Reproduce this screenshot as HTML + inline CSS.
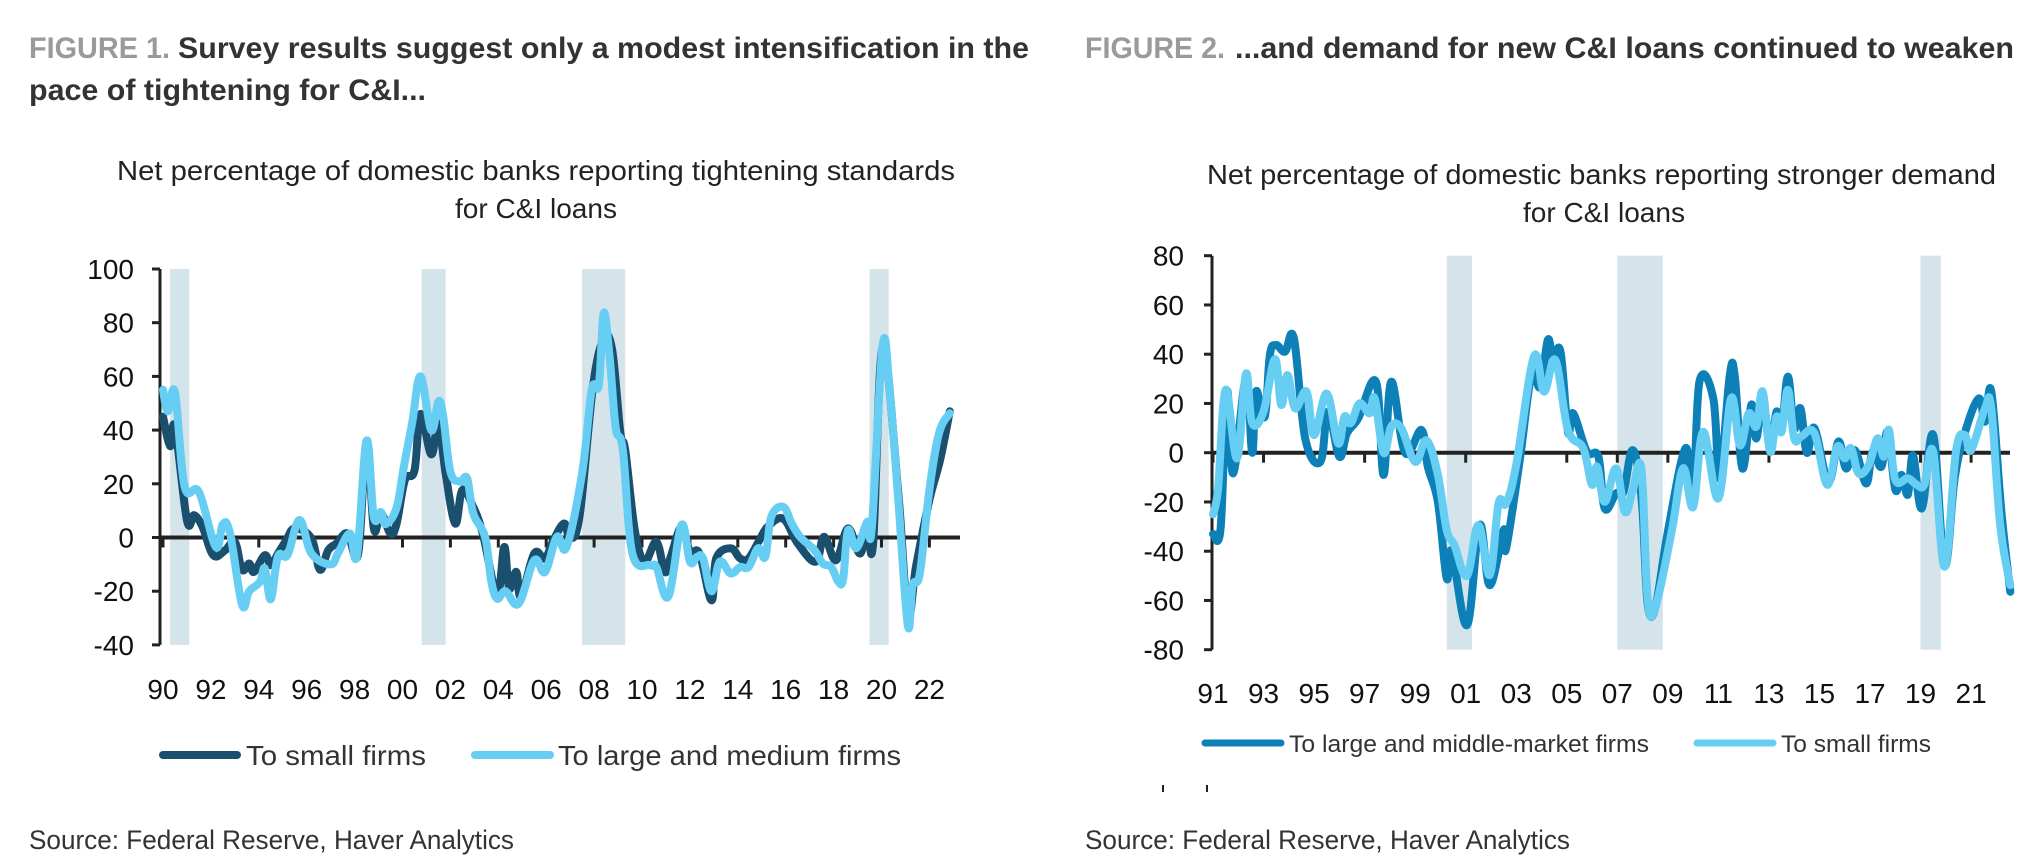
<!DOCTYPE html>
<html><head><meta charset="utf-8"><style>
html,body{margin:0;padding:0;background:#fff;}
svg{display:block;font-family:"Liberation Sans",sans-serif;}
</style></head><body>
<svg id="root" width="2040" height="868" viewBox="0 0 2040 868" xmlns="http://www.w3.org/2000/svg">
<text x="29" y="58" font-size="30" font-weight="bold" fill="#9a9a9a" textLength="141" lengthAdjust="spacingAndGlyphs">FIGURE 1.</text>
<text x="178" y="58" font-size="30" font-weight="bold" fill="#333" textLength="851" lengthAdjust="spacingAndGlyphs">Survey results suggest only a modest intensification in the</text>
<text x="29" y="100" font-size="30" font-weight="bold" fill="#333" textLength="397" lengthAdjust="spacingAndGlyphs">pace of tightening for C&amp;I...</text>
<text x="1085" y="58" font-size="30" font-weight="bold" fill="#9a9a9a" textLength="140" lengthAdjust="spacingAndGlyphs">FIGURE 2.</text>
<text x="1235" y="58" font-size="30" font-weight="bold" fill="#333" textLength="779" lengthAdjust="spacingAndGlyphs">...and demand for new C&amp;I loans continued to weaken</text>

<text x="117" y="180" font-size="28" fill="#222" textLength="838" lengthAdjust="spacingAndGlyphs">Net percentage of domestic banks reporting tightening standards</text>
<text x="455" y="218" font-size="28" fill="#222" textLength="162" lengthAdjust="spacingAndGlyphs">for C&amp;I loans</text>
<text x="1207" y="184" font-size="28" fill="#222" textLength="789" lengthAdjust="spacingAndGlyphs">Net percentage of domestic banks reporting stronger demand</text>
<text x="1523" y="222" font-size="28" fill="#222" textLength="162" lengthAdjust="spacingAndGlyphs">for C&amp;I loans</text>

<g id="c1"></g>
<g id="c2"></g>

<line x1="163" y1="755" x2="237" y2="755" stroke="#1b4f6e" stroke-width="8" stroke-linecap="round"/>
<text x="246" y="765" font-size="28" fill="#333" textLength="180" lengthAdjust="spacingAndGlyphs">To small firms</text>
<line x1="475" y1="755" x2="550" y2="755" stroke="#66cdf3" stroke-width="8" stroke-linecap="round"/>
<text x="558" y="765" font-size="28" fill="#333" textLength="343" lengthAdjust="spacingAndGlyphs">To large and medium firms</text>

<line x1="1205" y1="743" x2="1281" y2="743" stroke="#0d80b8" stroke-width="7" stroke-linecap="round"/>
<text x="1289" y="752" font-size="24" fill="#333" textLength="360" lengthAdjust="spacingAndGlyphs">To large and middle-market firms</text>
<line x1="1697" y1="743" x2="1773" y2="743" stroke="#66cdf3" stroke-width="7" stroke-linecap="round"/>
<text x="1781" y="752" font-size="24" fill="#333" textLength="150" lengthAdjust="spacingAndGlyphs">To small firms</text>

<rect x="1162" y="785" width="2" height="7" fill="#222"/>
<rect x="1206" y="785" width="2" height="7" fill="#222"/>

<text x="29" y="849" font-size="27" fill="#333" textLength="485" lengthAdjust="spacingAndGlyphs">Source: Federal Reserve, Haver Analytics</text>
<text x="1085" y="849" font-size="27" fill="#333" textLength="485" lengthAdjust="spacingAndGlyphs">Source: Federal Reserve, Haver Analytics</text>
</svg>
<script>
// ---------- Chart 1 data ----------
const c1YTicks = [100, 80, 60, 40, 20, 0, -20, -40];
const c1XTicks = [1990,1992,1994,1996,1998,2000,2002,2004,2006,2008,2010,2012,2014,2016,2018,2020,2022];
const c1XLabels = ["90","92","94","96","98","00","02","04","06","08","10","12","14","16","18","20","22"];
const c1RecStart = [1990.3, 2000.8, 2007.5, 2019.5];
const c1RecEnd = [1991.1, 2001.8, 2009.3, 2020.3];
const c1SmallX = [1990.0,1990.3,1990.5,1991.0,1991.3,1991.65,1992.1,1992.6,1993.0,1993.3,1993.6,1993.8,1994.25,1994.5,1994.8,1995.15,1995.5,1996.2,1996.55,1996.9,1997.25,1997.7,1998.15,1998.5,1998.8,1999.1,1999.5,1999.75,2000.1,2000.5,2000.75,2001.2,2001.5,2001.8,2002.2,2002.5,2002.95,2003.35,2003.95,2004.25,2004.45,2004.75,2004.95,2005.5,2005.95,2006.3,2006.75,2007.0,2007.4,2007.95,2008.4,2008.75,2009.1,2009.3,2009.7,2010.1,2010.6,2010.95,2011.2,2011.65,2012.0,2012.4,2012.9,2013.1,2013.7,2014.1,2014.45,2014.9,2015.25,2015.9,2016.5,2017.25,2017.6,2018.1,2018.6,2019.1,2019.4,2019.65,2020.05,2020.7,2021.1,2021.45,2022.0,2022.45,2022.85];
const c1SmallY = [45,34,41,6.5,8.3,4,-6.6,-4.7,-1.6,-12,-9.7,-12.8,-6.6,-10.3,-6,-1,3.4,-0.4,-12,-4.7,-2.2,1.5,-6,36,3.4,9,1.5,5,21.4,25,46,31,42.5,24,5.2,17.7,11.4,1.5,-21,-3.5,-19,-12.8,-22,-6,-7.8,-1,5.2,-0.4,8.3,56,74,70,38.8,32.6,2.7,-9,-1.6,-12.8,-7.2,4,-5.3,-6,-23.4,-7.8,-4,-7.8,-7.8,-1,4,7,-2.2,-9,0.25,-8.5,3.4,-6,4,-2.2,71,16.4,-28.4,-10.3,14,29,47];
const c1LargeX = [1990.0,1990.2,1990.5,1990.9,1991.5,1992.2,1992.5,1992.8,1993.3,1993.6,1994.05,1994.25,1994.5,1994.8,1995.2,1995.7,1996.2,1997.0,1997.3,1997.8,1998.1,1998.5,1998.8,1999.1,1999.3,1999.75,2000.05,2000.4,2000.75,2001.2,2001.5,2001.7,2002.0,2002.4,2002.7,2002.95,2003.45,2003.7,2003.95,2004.3,2004.85,2005.5,2005.95,2006.45,2006.85,2007.5,2007.9,2008.2,2008.4,2008.65,2008.9,2009.2,2009.6,2010.35,2010.6,2011.1,2011.65,2012.0,2012.3,2012.55,2012.9,2013.25,2013.7,2014.1,2014.45,2014.85,2015.15,2015.4,2015.9,2016.25,2016.6,2017.2,2017.55,2017.9,2018.2,2018.4,2018.6,2018.95,2019.4,2019.6,2020.05,2020.35,2020.7,2021.1,2021.3,2021.6,2022.0,2022.4,2022.85];
const c1LargeY = [55,47,54,19,17,-3.5,5,1.5,-25,-20,-16.5,-11.5,-23,-7,-6.5,6.5,-6,-10,-6,1.5,-6.5,36,7.7,9.5,5,11,26,42.5,60,40,50.6,45,24.5,20.8,22,9,0.2,-16,-22.8,-20,-24.6,-8.5,-12.8,0.25,-3.5,24,55,57,83.6,67,41,32.6,-6,-10.3,-11,-22,4.6,-9,-7.2,-7.8,-20,-9,-13.4,-11,-11,-4,-7.2,7.7,11.4,5.2,0.25,-4.7,-9.7,-11,-16.5,-15.3,2.7,-4,5.8,4,71.8,53.7,14,-32.7,-17.8,-13.4,17.7,38.8,46.3];

// ---------- Chart 2 data ----------
const c2YTicks = [80, 60, 40, 20, 0, -20, -40, -60, -80];
const c2XTicks = [1991,1993,1995,1997,1999,2001,2003,2005,2007,2009,2011,2013,2015,2017,2019,2021];
const c2XLabels = ["91","93","95","97","99","01","03","05","07","09","11","13","15","17","19","21"];
const c2RecStart = [2000.25, 2007.0, 2019.0];
const c2RecEnd = [2001.25, 2008.8, 2019.8];
const c2LargeX = [1991.0,1991.3,1991.55,1991.8,1992.3,1992.55,1992.7,1993.05,1993.25,1993.5,1993.85,1994.2,1994.65,1995.25,1995.55,1996.0,1996.3,1996.75,1997.45,1997.75,1998.05,1998.6,1999.25,1999.5,1999.9,2000.25,2000.45,2001.05,2001.55,2001.95,2002.5,2002.6,2003.15,2003.6,2003.95,2004.25,2004.45,2004.75,2005.05,2005.25,2005.8,2006.25,2006.5,2006.95,2007.25,2007.55,2007.8,2008.0,2008.2,2008.5,2009.0,2009.7,2010.0,2010.25,2010.8,2011.05,2011.45,2011.65,2011.95,2012.3,2012.5,2012.75,2013.05,2013.3,2013.5,2013.75,2014.0,2014.25,2014.5,2014.8,2015.35,2015.75,2016.05,2016.4,2016.85,2017.1,2017.45,2017.7,2018.0,2018.25,2018.5,2018.7,2019.05,2019.5,2019.95,2020.35,2020.75,2021.3,2021.55,2021.8,2022.2,2022.55];
const c2LargeY = [-33,-30.7,24.8,-8.4,30,0,24.8,14.6,39.7,43.7,41,46.4,5.8,-3.7,16.7,-1.6,7.9,14,28.8,-9,28.8,0,9.2,-5.7,-20,-51,-40,-70,-29.4,-53.8,-31.4,-38.9,-2.3,31.5,26.8,45.8,38.3,41,8.5,16,0.4,-1.6,-22.6,-16.5,-15.8,0.4,-5,-24,-61.2,-63,-32,1.8,-18.5,28.8,22,-10.4,31.5,30.9,-6.4,19.4,5.8,22,1.8,16.7,9.2,30.9,10,18,0,10,-11.8,4.5,-6.4,1,-12.5,0.4,-5.7,8.5,-15,-9,-17,-1,-22.6,7.2,-45.6,-10.4,8,22,12.6,24.8,-24,-56.5];
const c2SmallX = [1991.0,1991.2,1991.5,1991.95,1992.3,1992.55,1993.0,1993.45,1993.7,1993.95,1994.25,1994.7,1995.0,1995.5,1995.95,1996.2,1996.45,1996.8,1997.2,1997.4,1997.75,1998.05,1998.45,1999.0,1999.45,1999.9,2000.25,2000.55,2001.05,2001.5,2001.95,2002.3,2002.6,2003.0,2003.7,2004.1,2004.55,2005.05,2005.65,2006.0,2006.2,2006.5,2006.95,2007.3,2007.6,2007.95,2008.2,2008.5,2009.15,2009.6,2010.0,2010.4,2011.0,2011.5,2011.85,2012.2,2012.5,2012.75,2013.05,2013.3,2013.5,2013.75,2014.0,2014.3,2014.8,2015.3,2015.7,2016.0,2016.25,2016.55,2016.95,2017.3,2017.55,2017.75,2018.0,2018.5,2018.85,2019.15,2019.5,2019.95,2020.4,2020.75,2021.0,2021.55,2021.8,2022.15,2022.55];
const c2SmallY = [-25,-14.5,25.5,-2.3,32,12,16.7,38,19.4,31.5,18,24.8,7.2,24,3.8,14.6,12,20,16,22,0,10.6,10,-3.7,5,-9,-31.4,-37.5,-50,-29.4,-49.7,-20.6,-20.6,-5,39,24.8,37.6,9.2,1.8,-13,-5.7,-20,-6.4,-24,-15.8,-6.4,-59,-63,-32,-6.4,-22,8.5,-18.5,22,3,16,10.6,24.8,0.4,14.6,8.5,25.5,5.8,6.8,7.9,-13,2.4,-2.3,1.8,-8.4,-5,5.8,-1.6,9.2,-11,-10.4,-13,-13,0.4,-46.3,0.4,7.2,1,18,18,-29.4,-53.8];

const NS = "http://www.w3.org/2000/svg";
function mk(parent, tag, attrs){
  const e = document.createElementNS(NS, tag);
  for (const k in attrs) e.setAttribute(k, attrs[k]);
  parent.appendChild(e);
  return e;
}
function smoothPath(pts){
  let d = "M" + pts[0][0].toFixed(1) + "," + pts[0][1].toFixed(1);
  for (let i = 0; i < pts.length - 1; i++){
    const p0 = pts[i-1] || pts[i], p1 = pts[i], p2 = pts[i+1], p3 = pts[i+2] || p2;
    const t = 0.18;
    const c1x = p1[0] + (p2[0]-p0[0])*t, c1y = p1[1] + (p2[1]-p0[1])*t;
    const c2x = p2[0] - (p3[0]-p1[0])*t, c2y = p2[1] - (p3[1]-p1[1])*t;
    d += " C" + c1x.toFixed(1) + "," + c1y.toFixed(1) + " " + c2x.toFixed(1) + "," + c2y.toFixed(1) + " " + p2[0].toFixed(1) + "," + p2[1].toFixed(1);
  }
  return d;
}

function drawChart(g, cfg){
  const xs = y => cfg.x0 + (y - cfg.year0) * cfg.pxYear;
  const ys = v => cfg.yZero - v * cfg.pxUnit;
  const top = ys(cfg.yMax), bot = ys(cfg.yMin);
  cfg.recStart.forEach((s, i) => {
    const r = mk(g, "rect", {x: xs(s), y: top, width: xs(cfg.recEnd[i]) - xs(s), height: bot - top, fill: "#d5e3ea"});
    
    
  });
  const ax = mk(g, "line", {x1: cfg.axisX, y1: top, x2: cfg.axisX, y2: bot, stroke: "#222", "stroke-width": 3});
  
  
  cfg.yTicks.forEach(v => {
    const t = mk(g, "line", {x1: cfg.axisX - 8, y1: ys(v), x2: cfg.axisX, y2: ys(v), stroke: "#222", "stroke-width": 3});
    
    
    const l = mk(g, "text", {x: cfg.labelRight, y: ys(v) + 10, "font-size": 28, fill: "#111", "text-anchor": "end"});
    l.textContent = String(v);
    
    
  });
  cfg.xTicks.forEach((yr, i) => {
    const t = mk(g, "line", {x1: xs(yr), y1: cfg.yZero, x2: xs(yr), y2: cfg.yZero + 10, stroke: "#222", "stroke-width": 3});
    
    
    const l = mk(g, "text", {x: xs(yr), y: cfg.labelY, "font-size": 28, fill: "#111", "text-anchor": "middle"});
    l.textContent = cfg.xLabels[i];
    
    
  });
  const z = mk(g, "line", {x1: cfg.axisX, y1: cfg.yZero, x2: cfg.xEnd, y2: cfg.yZero, stroke: "#222", "stroke-width": 4});
  
  
  cfg.series.forEach(s => {
    const pts = s.x.map((yr, i) => [xs(yr), ys(s.y[i])]);
    const p = mk(g, "path", {d: smoothPath(pts), fill: "none", stroke: s.color, "stroke-width": 8, "stroke-linejoin": "round", "stroke-linecap": "round"});
    
    
  });
}

drawChart(document.getElementById("c1"), {
  x0: 163, year0: 1990, pxYear: 23.95, yZero: 537.5, pxUnit: 2.685, yMax: 100, yMin: -40,
  axisX: 160, xEnd: 960, labelRight: 134, labelY: 699,
  yTicks: c1YTicks, xTicks: c1XTicks, xLabels: c1XLabels, recStart: c1RecStart, recEnd: c1RecEnd,
  series: [
    {x: c1SmallX, y: c1SmallY, color: "#1b4f6e", name: "series-small-firms"},
    {x: c1LargeX, y: c1LargeY, color: "#66cdf3", name: "series-large-medium-firms"}
  ]
});
drawChart(document.getElementById("c2"), {
  x0: 1213, year0: 1991, pxYear: 25.27, yZero: 452.7, pxUnit: 2.4625, yMax: 80, yMin: -80,
  axisX: 1212, xEnd: 2010, labelRight: 1184, labelY: 703,
  yTicks: c2YTicks, xTicks: c2XTicks, xLabels: c2XLabels, recStart: c2RecStart, recEnd: c2RecEnd,
  series: [
    {x: c2LargeX, y: c2LargeY, color: "#0d80b8", name: "series-large-middle-market-firms"},
    {x: c2SmallX, y: c2SmallY, color: "#66cdf3", name: "series-small-firms-demand"}
  ]
});
</script>
</body></html>
